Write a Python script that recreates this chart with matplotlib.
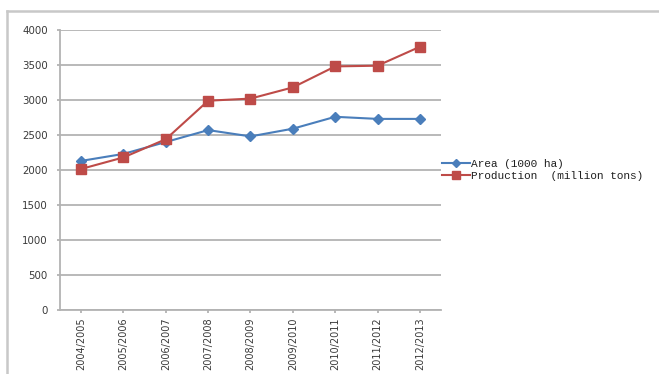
import matplotlib
matplotlib.use("Agg")
import matplotlib.pyplot as plt
from matplotlib.lines import Line2D

seasons = ["2004/2005", "2005/2006", "2006/2007", "2007/2008", "2008/2009",
           "2009/2010", "2010/2011", "2011/2012", "2012/2013"]
area = [2130, 2230, 2400, 2570, 2480, 2590, 2760, 2730, 2730]
production = [2015, 2180, 2440, 2990, 3020, 3180, 3480, 3490, 3760]
yticks = [0, 500, 1000, 1500, 2000, 2500, 3000, 3500, 4000]

fig = plt.figure(figsize=(6.59, 3.74), dpi=100)
ax = fig.add_axes([60 / 659, 1 - 310 / 374, 381 / 659, 280 / 374])

x = list(range(len(seasons)))
ax.plot(x, area, color="#4a7ebb", lw=1.5, marker="D", ms=5,
        mfc="#4a7ebb", mec="#4a7ebb", label="Area (1000 ha)", zorder=3)
ax.plot(x, production, color="#be4b48", lw=1.5, marker="s", ms=7.5,
        mfc="#be4b48", mec="#be4b48", label="Production  (million tons)", zorder=4)

ax.set_xlim(-0.5, len(seasons) - 0.5)
ax.set_ylim(0, 4000)
ax.set_yticks(yticks)
ax.set_yticklabels([str(v) for v in yticks], fontsize=7.4, color="#3a3a3a",
                   family="DejaVu Sans")
ax.set_xticks(x)
ax.set_xticklabels(seasons, rotation=90, fontsize=7, color="#3a3a3a",
                   family=["DejaVu Sans Condensed", "DejaVu Sans"])
ax.grid(axis="y", color="#b3b3b3", lw=1.3)
ax.set_axisbelow(True)
for s in ["top", "right"]:
    ax.spines[s].set_visible(False)
for s in ["left", "bottom"]:
    ax.spines[s].set_color("#b3b3b3")
    ax.spines[s].set_linewidth(1.3)
ax.tick_params(axis="y", length=2.2, color="#b3b3b3", width=1.3, pad=6.5)
ax.tick_params(axis="x", length=2.2, color="#b3b3b3", width=1.3, pad=3)

leg = fig.legend(loc="upper left", bbox_to_anchor=(442 / 659, 1 - 159 / 374),
                 frameon=False, prop={"family": "Liberation Mono", "size": 8.0},
                 handlelength=2.55, handletextpad=0.05, labelspacing=0.15,
                 borderaxespad=0, borderpad=0, markerscale=0.8)
for t in leg.get_texts():
    t.set_color("#202020")

# chart frame
fig.add_artist(Line2D([7 / 659, 658 / 659], [1 - 11 / 374, 1 - 11 / 374],
                      transform=fig.transFigure, color="#c8c8c8", lw=1.8))
fig.add_artist(Line2D([7 / 659, 7 / 659], [1 - 11 / 374, 0],
                      transform=fig.transFigure, color="#c8c8c8", lw=1.8))

fig.savefig("out.png", dpi=100, facecolor="white")
